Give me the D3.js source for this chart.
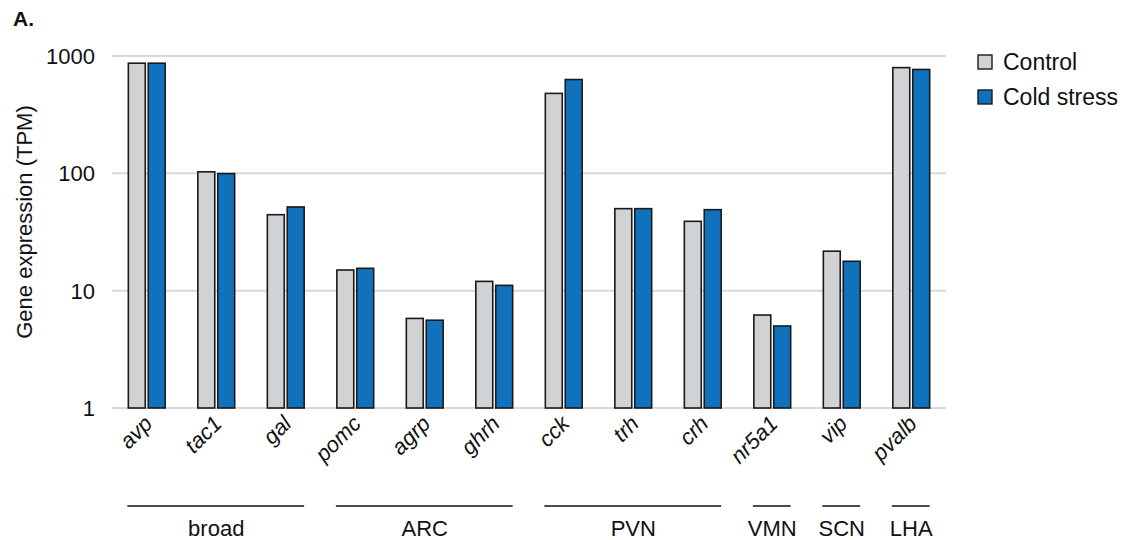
<!DOCTYPE html>
<html>
<head>
<meta charset="utf-8">
<script src="https://cdn.jsdelivr.net/npm/d3@7"></script>
<style>
  body { margin: 0; background: #fff; }
  svg { display: block; }
</style>
</head>
<body>
<div id="chart"></div>
<script>
"use strict";

const genes = ["avp", "tac1", "gal", "pomc", "agrp", "ghrh", "cck", "trh", "crh", "nr5a1", "vip", "pvalb"];
const control = [868, 103, 44.4, 15, 5.8, 12, 480, 50, 39, 6.2, 21.7, 796];
const coldStress = [868, 99.5, 51.7, 15.5, 5.6, 11.1, 630, 50, 49, 5, 17.8, 768];
const seriesNames = ["Control", "Cold stress"];
const yTicks = [1, 10, 100, 1000];
const groupNames = ["broad", "ARC", "PVN", "VMN", "SCN", "LHA"];
const groupSizes = [3, 3, 3, 1, 1, 1];

const font = "'Liberation Sans', Arial, sans-serif";
const colors = ["#d1d2d4", "#1072bd"];
const width = 1126, height = 540;
const margin = {top: 56, right: 180, bottom: 132, left: 112};

const svg = d3.select("#chart").append("svg")
    .attr("width", width)
    .attr("height", height)
    .style("font-family", font);

const x = d3.scaleBand()
    .domain(genes)
    .range([margin.left, width - margin.right])
    .paddingInner(0.47)
    .paddingOuter(0.235);

const x1 = d3.scaleBand()
    .domain(seriesNames)
    .range([0, x.bandwidth()])
    .paddingInner(0.15);

const y = d3.scaleLog()
    .domain([1, 1000])
    .range([height - margin.bottom, margin.top]);

// grid lines
svg.append("g")
    .selectAll("line")
    .data(yTicks)
    .join("line")
    .attr("x1", margin.left)
    .attr("x2", width - margin.right)
    .attr("y1", d => y(d))
    .attr("y2", d => y(d))
    .attr("stroke", "#d9d9d9")
    .attr("stroke-width", 2);

// y tick labels
svg.append("g")
    .attr("font-size", 22)
    .attr("text-anchor", "end")
    .attr("fill", "#111")
    .selectAll("text")
    .data(yTicks)
    .join("text")
    .attr("x", margin.left - 17)
    .attr("y", d => y(d))
    .attr("dy", "0.36em")
    .text(d => d);

// y title
svg.append("text")
    .attr("transform", `translate(32,222) rotate(-90)`)
    .attr("text-anchor", "middle")
    .attr("font-size", 22)
    .attr("fill", "#111")
    .text("Gene expression (TPM)");

// bars
const rows = genes.map((g, i) => ({gene: g, values: [control[i], coldStress[i]]}));
svg.append("g")
    .selectAll("g")
    .data(rows)
    .join("g")
    .attr("transform", d => `translate(${x(d.gene)},0)`)
    .selectAll("rect")
    .data(d => d.values.map((v, j) => ({series: seriesNames[j], value: v, j})))
    .join("rect")
    .attr("x", d => x1(d.series))
    .attr("width", x1.bandwidth())
    .attr("y", d => y(d.value))
    .attr("height", d => y(1) - y(d.value))
    .attr("fill", d => colors[d.j])
    .attr("stroke", "#1a1a1a")
    .attr("stroke-width", 1.6);

// x labels, italic and slanted
svg.append("g")
    .attr("font-size", 22)
    .attr("font-style", "italic")
    .attr("text-anchor", "end")
    .attr("fill", "#111")
    .selectAll("text")
    .data(genes)
    .join("text")
    .attr("transform", d => `translate(${x(d) + x.bandwidth() / 2 + 7},${y(1) + 17}) rotate(-45)`)
    .text(d => d);

// region groups
let start = 0;
const groups = groupNames.map((name, i) => {
    const g = {name, first: genes[start], last: genes[start + groupSizes[i] - 1]};
    start += groupSizes[i];
    return g;
});

const grp = svg.append("g");
grp.selectAll("line")
    .data(groups)
    .join("line")
    .attr("x1", d => x(d.first) - 1)
    .attr("x2", d => x(d.last) + x.bandwidth())
    .attr("y1", 506)
    .attr("y2", 506)
    .attr("stroke", "#111")
    .attr("stroke-width", 1.6);

grp.selectAll("text")
    .data(groups)
    .join("text")
    .attr("x", d => (x(d.first) + x(d.last) + x.bandwidth()) / 2)
    .attr("y", 536)
    .attr("text-anchor", "middle")
    .attr("font-size", 22)
    .attr("fill", "#111")
    .text(d => d.name);

// panel letter
svg.append("text")
    .attr("x", 13)
    .attr("y", 26)
    .attr("font-size", 21)
    .attr("font-weight", "bold")
    .attr("fill", "#111")
    .text("A.");

// legend
const legend = svg.append("g")
    .selectAll("g")
    .data(seriesNames)
    .join("g")
    .attr("transform", (d, i) => `translate(978,${55 + i * 35})`);

legend.append("rect")
    .attr("width", 14)
    .attr("height", 14)
    .attr("fill", (d, i) => colors[i])
    .attr("stroke", "#1a1a1a")
    .attr("stroke-width", 1.4);

legend.append("text")
    .attr("x", 25)
    .attr("y", 7)
    .attr("dy", "0.36em")
    .attr("font-size", 23)
    .attr("fill", "#111")
    .text(d => d);
</script>
</body>
</html>
